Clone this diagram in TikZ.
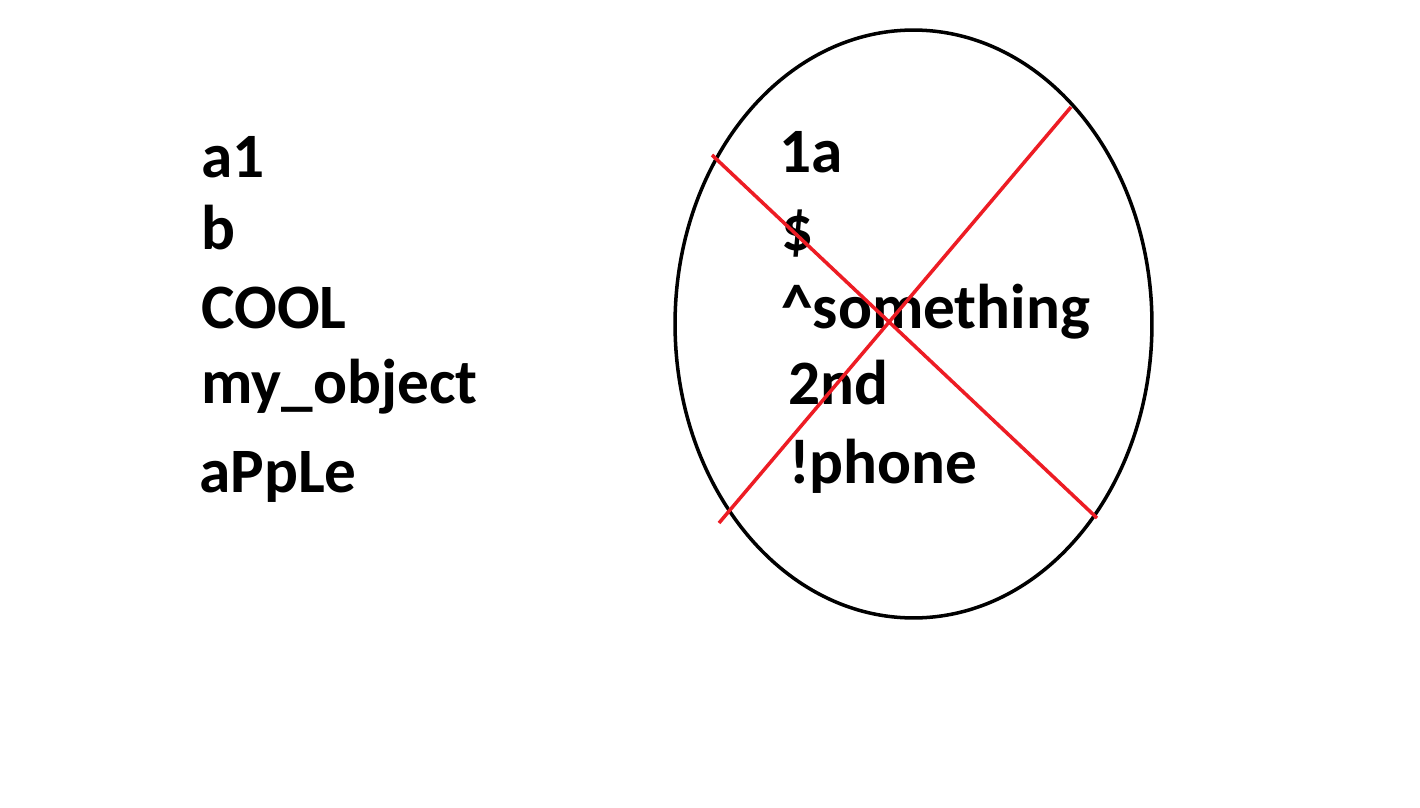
\documentclass[tikz,border=0pt]{standalone}
\usepackage{fontspec}
\setmainfont{Carlito}
\usetikzlibrary{shapes.geometric}
\definecolor{paintred}{RGB}{237,28,36}
\begin{document}
\begin{tikzpicture}[x=0.02cm,y=-0.02cm,
  lbl/.style={anchor=base west,inner sep=0pt,font=\fontsize{36}{40}\selectfont\bfseries},
  ring/.style={draw=black,line width=2pt,ellipse,inner sep=0pt,minimum width=9.54cm,minimum height=11.76cm},
  cross/.style={draw=paintred,line width=2pt}]
\useasboundingbox[fill=white] (0,0) rectangle (1420,808);
% ellipse
\node[ring] (ell) at (913.5,324) {};
% left words
\node[lbl] (a1) at (201,177) {a1};
\node[lbl] (b) at (201,249) {b};
\node[lbl] (cool) at (201,328) {COOL};
\node[lbl] (myobj) at (201,403) {my\_object};
\node[lbl] (apple) at (199,492) {aPpLe};
% right words
\node[lbl] (w1a) at (779,172) {1a};
\node[lbl] (wdollar) at (781,250) {\$};
\node[lbl] (wsome) at (781,328) {\^{}something};
\node[lbl] (w2nd) at (788,404) {2nd};
\node[lbl] (wphone) at (789,483) {!phone};
% cross
\coordinate (c1) at (712,155);
\coordinate (c2) at (1097,518);
\coordinate (c3) at (1071,107);
\coordinate (c4) at (719,523);
\draw[cross] (c1) -- (c2);
\draw[cross] (c3) -- (c4);
\end{tikzpicture}
\end{document}
